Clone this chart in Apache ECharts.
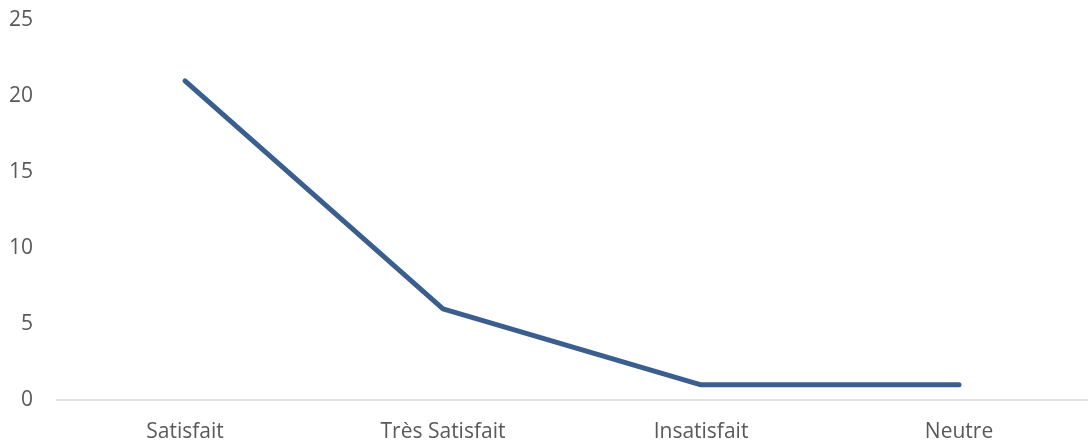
<!DOCTYPE html>
<html><head><meta charset="utf-8">
<script src="https://cdn.jsdelivr.net/npm/echarts@6/dist/echarts.min.js"></script>
<style>html,body{margin:0;padding:0;background:#fff}#c{width:1088px;height:443px}</style>
</head><body><div id="c"></div>
<script>
const categories = ['Satisfait', 'Très Satisfait', 'Insatisfait', 'Neutre'];
const values = [21, 6, 1, 1];
const yTicks = {min: 0, max: 25, step: 5};
const chart = echarts.init(document.getElementById('c'));
chart.setOption({
  animation: false,
  grid: {left: 56, right: -12, top: 20, bottom: 39, containLabel: false},
  xAxis: {
    type: 'category', data: categories, boundaryGap: true,
    axisLine: {show: false},
    axisTick: {show: false},
    splitLine: {show: false},
    axisLabel: {color: '#595959', fontSize: 21, fontFamily: 'Open Sans', margin: 22}
  },
  yAxis: {
    type: 'value', min: yTicks.min, max: yTicks.max, interval: yTicks.step,
    axisLine: {show: false}, axisTick: {show: false},
    splitLine: {show: true, lineStyle: {width: 1.5, color: ['#d9d9d9', 'rgba(0,0,0,0)', 'rgba(0,0,0,0)', 'rgba(0,0,0,0)', 'rgba(0,0,0,0)', 'rgba(0,0,0,0)']}},
    axisLabel: {color: '#595959', fontSize: 21, fontFamily: 'Open Sans', margin: 23}
  },
  series: [{
    type: 'line', data: values, symbol: 'none',
    lineStyle: {color: '#3a5f8f', width: 5, cap: 'round', join: 'round'}
  }]
});
</script></body></html>
